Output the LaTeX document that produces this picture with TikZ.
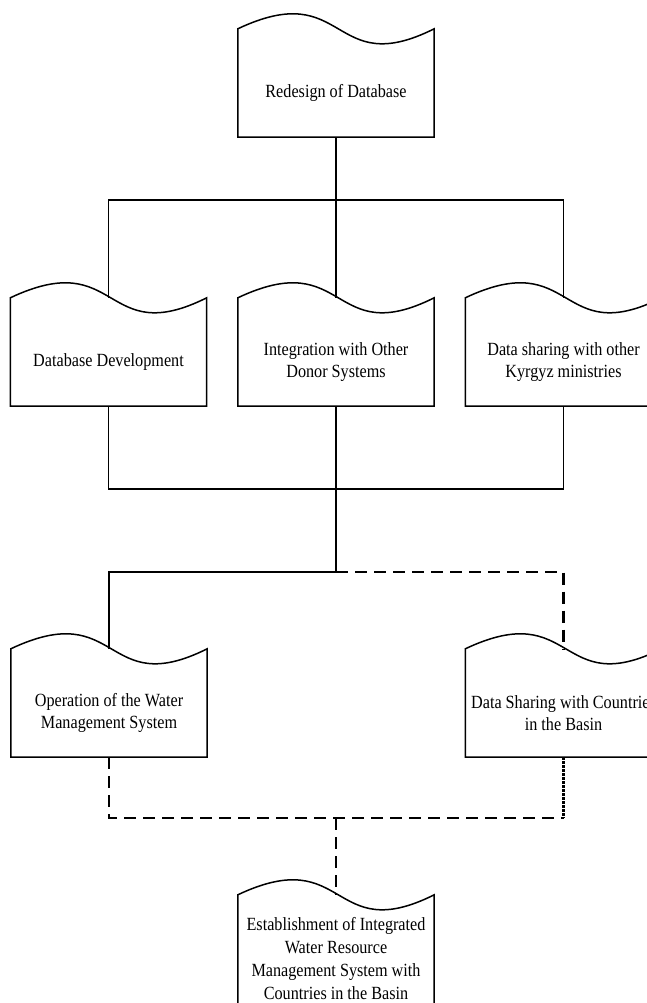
\documentclass[tikz,border=0pt]{standalone}
\usepackage{fontspec}
\setmainfont{Liberation Serif}[FakeStretch=0.87]
\usetikzlibrary{calc}
\newcommand\wavebox[2][0pt]{%
  \draw[boxline] ([yshift=-#1]#2.south west) -- ([yshift=20pt]#2.north west)
    .. controls ([xshift=12pt,yshift=72pt]#2.north) and ([xshift=-6pt,yshift=-32pt]#2.north) .. ([yshift=20pt]#2.north east)
    -- ([yshift=-#1]#2.south east) -- cycle;}
\begin{document}
\begin{tikzpicture}[x=1pt,y=-1pt,
  wbox/.style={minimum width=196pt, minimum height=88pt, inner sep=0pt, align=center,
    font=\fontsize{18.6}{22.5}\selectfont},
  boxline/.style={line width=1.5pt, line join=miter},
  conn/.style={line width=1.5pt},
  dashconn/.style={line width=2.2pt, dash pattern=on 12pt off 7pt},
  dotconn/.style={line width=2.4pt, dash pattern=on 2.5pt off 1.5pt}]
\useasboundingbox (0,0) rectangle (647,1003);
\clip (0,0) rectangle (647,1003);

\node[wbox] (top) at (336,93) {Redesign of Database};
\node[wbox] (b1) at (108.5,362) {Database Development};
\node[wbox] (b2) at (336,362) {Integration with Other\\Donor Systems};
\node[wbox] (b3) at (563.5,362) {Data sharing with other\\Kyrgyz ministries};
\node[wbox] (c1) at (109,713) {Operation of the Water\\Management System};
\node[wbox] (c2) at (563.5,713) {Data Sharing with Countries\\in the Basin};
\node[wbox, font=\fontsize{18.6}{23}\selectfont] (d) at (336,959) {Establishment of Integrated\\Water Resource\\Management System with\\Countries in the Basin};

\coordinate (j1) at (336,200);
\coordinate (j2) at (336,489);
\coordinate (j3) at (336,572);
\coordinate (j4) at (336,818);
\coordinate (j5) at (563.5,818);

\draw[conn] (top.south) -- (j1);
\draw[conn] ([yshift=20pt]b1.north) |- (j1) -| ([yshift=20pt]b3.north);
\draw[conn] (j1) -- ([yshift=20pt]b2.north);
\draw[conn] (b1.south) |- (j2) -| (b3.south);
\draw[conn] (b2.south) -- (j3);
\draw[conn] (j3) -| ([yshift=20pt]c1.north);
\draw[dashconn] (j3) -| ([yshift=20pt]c2.north);
\draw[dashconn] (c1.south) |- (j5);
\draw[dotconn] (c2.south) -- (j5);
\draw[dashconn] (j4) -- ([yshift=20pt]d.north);

\wavebox{top}
\wavebox{b1}
\wavebox{b2}
\wavebox{b3}
\wavebox{c1}
\wavebox{c2}
\wavebox[20pt]{d}
\end{tikzpicture}
\end{document}
